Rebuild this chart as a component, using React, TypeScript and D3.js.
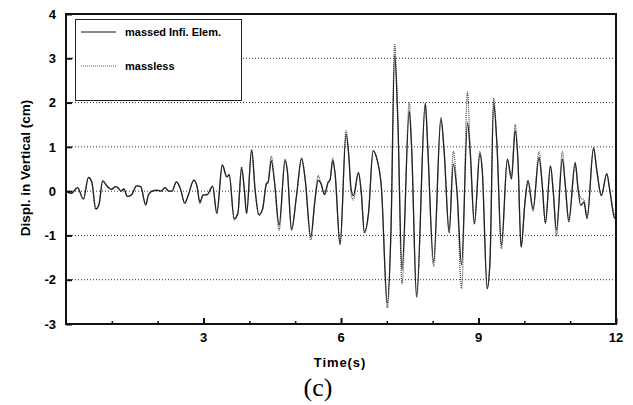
import { useEffect, useRef } from 'react';
import * as d3 from 'd3';

// tiempos (s)
const time = [
  0.0, 0.12, 0.25, 0.38, 0.49, 0.56, 0.65, 0.72, 0.8, 0.89, 0.99, 1.08, 1.14, 1.2, 1.26, 1.34, 1.43,
  1.54, 1.63, 1.74, 1.8, 1.88, 1.98, 2.08, 2.16, 2.24, 2.31, 2.41, 2.5, 2.59, 2.67, 2.79, 2.86, 2.92,
  2.99, 3.08, 3.2, 3.29, 3.41, 3.51, 3.56, 3.67, 3.75, 3.83, 3.89, 3.94, 4.05, 4.13, 4.21, 4.29, 4.37,
  4.41, 4.48, 4.55, 4.65, 4.78, 4.83, 4.92, 5.03, 5.14, 5.22, 5.34, 5.43, 5.5, 5.56, 5.64, 5.72, 5.76,
  5.82, 5.87, 5.98, 6.11, 6.17, 6.22, 6.27, 6.38, 6.44, 6.51, 6.6, 6.7, 6.79, 6.88, 7.01, 7.09, 7.17,
  7.24, 7.33, 7.49, 7.54, 7.65, 7.84, 7.89, 8.02, 8.18, 8.25, 8.36, 8.45, 8.53, 8.63, 8.76, 8.82, 8.91,
  9.03, 9.08, 9.19, 9.25, 9.33, 9.4, 9.5, 9.63, 9.72, 9.8, 9.86, 9.93, 10.01, 10.08, 10.19, 10.32,
  10.39, 10.46, 10.57, 10.63, 10.7, 10.83, 10.89, 10.97, 11.11, 11.17, 11.23, 11.3, 11.37, 11.51,
  11.58, 11.68, 11.8, 11.86, 11.97, 12.0,
];

// desplazamiento (cm) - elemento infinito con masa
const massed = [
  0.0, -0.05, 0.08, -0.18, 0.31, 0.22, -0.4, -0.3, 0.23, 0.12, 0.04, 0.1, 0.07, 0.0, 0.05, -0.12, -0.08,
  0.12, 0.1, -0.31, -0.08, 0.0, 0.02, 0.0, 0.08, 0.0, 0.0, 0.21, 0.04, -0.27, -0.08, 0.25, 0.1, -0.25,
  -0.09, -0.08, 0.11, -0.5, 0.59, 0.32, 0.37, -0.62, -0.5, 0.52, 0.05, -0.5, 0.93, -0.02, -0.53, -0.4, 0.15,
  0.2, 0.69, 0.2, -0.77, 0.69, 0.45, -0.88, -0.1, 0.74, 0.25, -1.03, -0.22, 0.24, 0.18, -0.08, 0.2, 0.25,
  0.69, 0.4, -1.2, 1.28, 0.8, 0.05, -0.1, 0.42, 0.0, -0.92, -0.5, 0.91, 0.7, 0.1, -2.52, -0.9, 3.07,
  1.6, -1.78, 1.8, 1.0, -2.37, 1.99, 1.05, -1.59, 1.66, 0.9, -0.92, 0.61, 0.0, -1.66, 1.54, 0.88, -0.73,
  0.84, 0.5, -2.2, -1.6, 1.99, 1.1, -1.22, 0.72, 0.27, 1.36, 0.7, -1.27, -0.3, 0.24, -0.4, 0.76,
  0.15, -0.73, 0.57, 0.0, -0.88, 0.72, 0.18, -0.66, 0.65, 0.08, -0.32, -0.25, -0.62, 0.98,
  0.48, -0.1, 0.39, 0.05, -0.61, -0.62,
];

// desplazamiento (cm) - sin masa
const massless = [
  0.0, -0.05, 0.08, -0.18, 0.31, 0.22, -0.42, -0.3, 0.23, 0.12, 0.04, 0.1, 0.07, 0.0, 0.05, -0.12, -0.08,
  0.12, 0.1, -0.31, -0.08, 0.0, 0.02, 0.0, 0.08, 0.0, 0.0, 0.21, 0.04, -0.27, -0.08, 0.25, 0.1, -0.28,
  -0.09, -0.08, 0.11, -0.5, 0.59, 0.32, 0.37, -0.65, -0.5, 0.55, 0.05, -0.5, 0.93, -0.02, -0.55, -0.4, 0.18,
  0.22, 0.79, 0.2, -0.88, 0.72, 0.45, -0.85, -0.1, 0.74, 0.25, -1.1, -0.22, 0.35, 0.18, -0.05, 0.2, 0.25,
  0.75, 0.4, -1.2, 1.36, 0.8, -0.05, -0.2, 0.42, 0.0, -0.95, -0.5, 0.91, 0.7, 0.1, -2.63, -0.9, 3.31,
  1.6, -2.1, 2.0, 1.0, -2.4, 1.95, 1.05, -1.7, 1.6, 0.9, -0.95, 0.9, 0.0, -2.2, 2.24, 0.88, -0.75,
  0.9, 0.5, -2.2, -1.6, 2.1, 1.1, -1.3, 0.7, 0.35, 1.5, 0.7, -1.25, -0.3, 0.22, -0.45, 0.9,
  0.15, -0.7, 0.55, 0.0, -1.02, 0.9, 0.18, -0.7, 0.6, 0.08, -0.15, -0.2, -0.55, 0.95,
  0.48, -0.1, 0.4, 0.05, -0.55, -0.58,
];

const yTicks = [-3, -2, -1, 0, 1, 2, 3, 4];
const yGrid = [-2, -1, 0, 1, 2, 3];
const xMajor = [3, 6, 9, 12];
const xMinor = [1, 2, 4, 5, 7, 8, 10, 11];
const legendLabels = ['massed Infi. Elem.', 'massless'];

export default function App() {
  const chartRef = useRef<SVGSVGElement>(null);

  useEffect(() => {
    const width = 633;
    const height = 405;
    const margin = { top: 14, right: 17, bottom: 81, left: 66 };

    const svg = d3.select(chartRef.current);
    svg.selectAll('*').remove();

    const x = d3.scaleLinear().domain([0, 12]).range([margin.left, width - margin.right]);
    const y = d3.scaleLinear().domain([-3, 4]).range([height - margin.bottom, margin.top]);

    const font = 'Arial, "Liberation Sans", sans-serif';

    // rejilla punteada
    svg.append('g')
      .selectAll('line')
      .data(yGrid)
      .enter().append('line')
      .attr('x1', x(0))
      .attr('x2', x(12))
      .attr('y1', d => y(d))
      .attr('y2', d => y(d))
      .attr('stroke', '#333')
      .attr('stroke-width', 1)
      .attr('stroke-dasharray', '1,2');

    // series
    const pts = (vals: number[]) => time.map((t, i) => [t, vals[i]] as [number, number]);
    const line = d3.line<[number, number]>()
      .x(d => x(d[0]))
      .y(d => y(d[1]))
      .curve(d3.curveMonotoneX);

    svg.append('path')
      .attr('d', line(pts(massless)))
      .attr('fill', 'none')
      .attr('stroke', '#444')
      .attr('stroke-width', 1.2)
      .attr('stroke-dasharray', '1,1');

    svg.append('path')
      .attr('d', line(pts(massed)))
      .attr('fill', 'none')
      .attr('stroke', '#222')
      .attr('stroke-width', 1.3);

    // marco
    svg.append('rect')
      .attr('x', x(0))
      .attr('y', y(4))
      .attr('width', x(12) - x(0))
      .attr('height', y(-3) - y(4))
      .attr('fill', 'none')
      .attr('stroke', '#111')
      .attr('stroke-width', 2);

    // eje Y
    const yAxis = svg.append('g')
      .attr('transform', `translate(${x(0)},0)`)
      .call(d3.axisRight(y).tickValues(yTicks).tickSize(6).tickFormat(() => ''));
    yAxis.select('.domain').remove();
    yAxis.selectAll('line').attr('stroke', '#111').attr('stroke-width', 2);

    svg.append('g')
      .selectAll('text')
      .data(yTicks)
      .enter().append('text')
      .attr('x', x(0) - 10)
      .attr('y', d => y(d))
      .attr('dy', '0.36em')
      .attr('text-anchor', 'end')
      .style('font-family', font)
      .style('font-weight', 'bold')
      .style('font-size', '13px')
      .text(d => d);

    // eje X
    const xAxis = svg.append('g')
      .attr('transform', `translate(0,${y(-3)})`)
      .call(d3.axisTop(x).tickValues(xMajor).tickSize(6).tickFormat(() => ''));
    xAxis.select('.domain').remove();
    xAxis.selectAll('line').attr('stroke', '#111').attr('stroke-width', 2);

    const xAxisMinor = svg.append('g')
      .attr('transform', `translate(0,${y(-3)})`)
      .call(d3.axisTop(x).tickValues(xMinor).tickSize(3).tickFormat(() => ''));
    xAxisMinor.select('.domain').remove();
    xAxisMinor.selectAll('line').attr('stroke', '#111').attr('stroke-width', 1.5);

    svg.append('g')
      .selectAll('text')
      .data(xMajor)
      .enter().append('text')
      .attr('x', d => x(d))
      .attr('y', y(-3) + 18)
      .attr('text-anchor', 'middle')
      .style('font-family', font)
      .style('font-weight', 'bold')
      .style('font-size', '13px')
      .text(d => d);

    // títulos de ejes
    svg.append('text')
      .attr('x', 340)
      .attr('y', 367)
      .attr('text-anchor', 'middle')
      .style('font-family', font)
      .style('font-weight', 'bold')
      .style('font-size', '13px')
      .style('letter-spacing', '0.9px')
      .text('Time(s)');

    svg.append('text')
      .attr('transform', 'translate(30,168) rotate(-90)')
      .attr('text-anchor', 'middle')
      .style('font-family', font)
      .style('font-weight', 'bold')
      .style('font-size', '13.5px')
      .text('Displ. in Vertical (cm)');

    svg.append('text')
      .attr('x', 318)
      .attr('y', 396)
      .attr('text-anchor', 'middle')
      .style('font-family', '"Times New Roman", "Liberation Serif", serif')
      .style('font-size', '26px')
      .text('(c)');

    // leyenda
    const legend = svg.append('g');
    legend.append('rect')
      .attr('x', 75.5)
      .attr('y', 19.5)
      .attr('width', 166)
      .attr('height', 81)
      .attr('fill', 'white')
      .attr('stroke', '#222')
      .attr('stroke-width', 1);

    legendLabels.forEach((label, i) => {
      const ly = 32 + i * 34;
      legend.append('line')
        .attr('x1', 81)
        .attr('x2', 116)
        .attr('y1', ly)
        .attr('y2', ly)
        .attr('stroke', i === 0 ? '#111' : '#555')
        .attr('stroke-width', 1)
        .attr('stroke-dasharray', i === 0 ? null : '1,1');
      legend.append('text')
        .attr('x', 125)
        .attr('y', ly)
        .attr('dy', '0.35em')
        .style('font-family', font)
        .style('font-weight', 'bold')
        .style('font-size', '11px')
        .text(label);
    });
  }, []);

  return (
    <svg
      ref={chartRef}
      width={633}
      height={405}
      style={{ position: 'absolute', left: 0, top: 0, background: 'white' }}
    ></svg>
  );
}
